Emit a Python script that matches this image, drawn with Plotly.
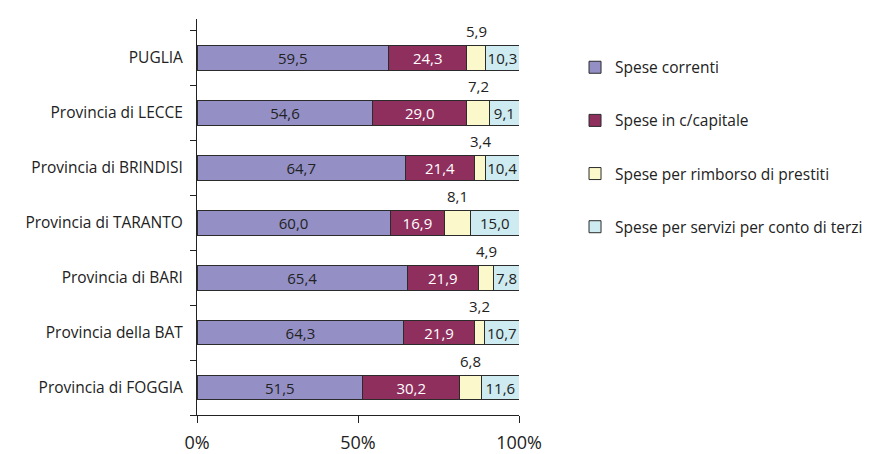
import plotly.graph_objects as go

# categories, top to bottom as in the picture
province = ["PUGLIA", "Provincia di LECCE", "Provincia di BRINDISI",
            "Provincia di TARANTO", "Provincia di BARI", "Provincia della BAT",
            "Provincia di FOGGIA"]

spese_correnti = [59.5, 54.6, 64.7, 60.0, 65.4, 64.3, 51.5]
spese_capitale = [24.3, 29.0, 21.4, 16.9, 21.9, 21.9, 30.2]
spese_rimborso = [5.9, 7.2, 3.4, 8.1, 4.9, 3.2, 6.8]
spese_terzi = [10.3, 9.1, 10.4, 15.0, 7.8, 10.7, 11.6]

x_ticks = [0, 50, 100]
x_tick_labels = ["0%", "50%", "100%"]

serie = [
    ("Spese correnti", spese_correnti, "#9490c6", "#222222", True),
    ("Spese in c/capitale", spese_capitale, "#8f2f5e", "white", True),
    ("Spese per rimborso di prestiti", spese_rimborso, "#fbf8cc", "#222222", False),
    ("Spese per servizi per conto di terzi", spese_terzi, "#cdebf0", "#222222", True),
]


def fmt(v):
    return f"{v:.1f}".replace(".", ",")


fig = go.Figure()
for i, (name, vals, color, txtcol, inside) in enumerate(serie):
    fig.add_trace(go.Bar(
        y=province,
        x=vals,
        name=name,
        orientation="h",
        marker=dict(color=color, line=dict(color="#2b2b2b", width=1)),
        text=[fmt(v) for v in vals] if inside else None,
        textposition="inside",
        insidetextanchor="middle",
        constraintext="none",
        textfont=dict(color=txtcol, size=15),
        legendgroup=f"g{i}",
        hoverinfo="skip",
    ))

# rimborso labels sit above the bar, centred on the yellow segment
for p, a, b, c, d in zip(province, spese_correnti, spese_capitale,
                         spese_rimborso, spese_terzi):
    tot = a + b + c + d
    centre = (a + b + c / 2) / tot * 100
    fig.add_annotation(x=centre, y=p, text=fmt(c), showarrow=False,
                       yshift=27, font=dict(size=15, color="#222222"))

fig.update_layout(
    barmode="stack",
    barnorm="percent",
    bargap=0.55,
    width=877, height=454,
    margin=dict(l=197, r=358, t=19, b=39, autoexpand=False),
    plot_bgcolor="white",
    paper_bgcolor="white",
    font=dict(family="Open Sans, Noto Sans, sans-serif", color="#222222", size=15),
    legend=dict(
        x=1.174, xanchor="left", y=0.92, yanchor="top",
        font=dict(size=15.5),
        tracegroupgap=30,
        itemwidth=30,
    ),
    xaxis=dict(
        range=[0, 100],
        tickvals=x_ticks,
        ticktext=x_tick_labels,
        showgrid=False,
        zeroline=False,
        automargin=False,
        showline=True, linecolor="#222222", linewidth=1,
        ticks="outside", ticklen=7, tickcolor="#222222",
        ticklabelstandoff=4,
        tickfont=dict(size=18),
    ),
    yaxis=dict(
        categoryorder="array",
        categoryarray=province[::-1],
        showgrid=False,
        automargin=False,
        showline=True, linecolor="#222222", linewidth=1,
        ticks="outside", ticklen=6, tickcolor="#222222",
        tickson="boundaries",
        ticklabelstandoff=10,
        tickfont=dict(size=15.5),
    ),
)

# drop the browser's default body margin so the figure sits at the page corner
fig.write_html("out.html", config={"displayModeBar": False},
               post_script="document.body.style.margin='0';")
